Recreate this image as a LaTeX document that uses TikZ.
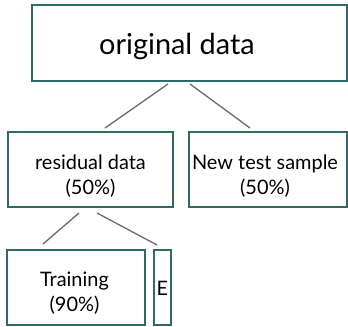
\documentclass[tikz,border=0pt]{standalone}
\usepackage{fontspec}
\setmainfont{Lato}
\definecolor{boxc}{HTML}{2F6B64}
\definecolor{linec}{HTML}{6A6A6A}
\begin{document}
\begin{tikzpicture}[x=1bp,y=-1bp,
  box/.style={draw=boxc,line width=2bp,fill=white,inner sep=0pt},
  lbl/.style={inner sep=0pt,align=center,text=black,font=\fontsize{20}{25}\selectfont},
  conn/.style={draw=linec,line width=1.3bp}]
\useasboundingbox (0,0) rectangle (348,327);
\node[box,minimum width=315bp,minimum height=76bp] (orig) at (189.5,43) {};
\node[box,minimum width=165bp,minimum height=75bp] (resid) at (90.5,169.5) {};
\node[box,minimum width=158bp,minimum height=75bp] (test) at (268,169.5) {};
\node[box,minimum width=138bp,minimum height=75bp] (train) at (76,287.5) {};
\node[box,minimum width=17bp,minimum height=75bp] (eval) at (162.5,287.5) {};
\node[lbl,font=\fontsize{29}{30}\selectfont] (origT) at (177,46) {original data};
\node[lbl] (residT) at (90.5,176) {residual data\\(50\%)};
\node[lbl] (testT) at (265,176) {New test sample\\(50\%)};
\node[lbl] (trainT) at (74.5,293) {Training\\(90\%)};
\node[lbl] (evalT) at (162.5,288) {E};
\coordinate (o1) at (168,84);
\coordinate (o2) at (190,84);
\coordinate (r1) at (105,128);
\coordinate (r2) at (250,128);
\draw[conn] (o1) -- (r1);
\draw[conn] (o2) -- (r2);
\coordinate (s1) at (79,213);
\coordinate (s2) at (97,213);
\coordinate (t1) at (43,244);
\coordinate (t2) at (157,245);
\draw[conn] (s1) -- (t1);
\draw[conn] (s2) -- (t2);
\end{tikzpicture}
\end{document}
